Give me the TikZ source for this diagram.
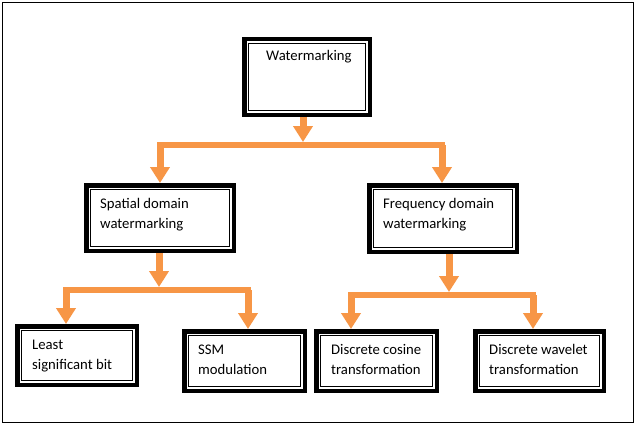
\documentclass[tikz,border=0pt]{standalone}
\usepackage{fontspec}
\setmainfont{Carlito}
\usetikzlibrary{arrows.meta}
\definecolor{arrorange}{RGB}{247,150,70}
\begin{document}
\begin{tikzpicture}[x=1pt,y=-1pt,
 box/.style={draw=black, line width=4.5pt, fill=white, inner sep=0pt, outer sep=2.25pt, anchor=north west},
 inbox/.style={draw=black, line width=1pt},
 lbl/.style={anchor=base west, inner sep=0pt, align=left, font=\fontsize{14.7}{20}\selectfont},
 shaft/.style={draw=arrorange, line width=7pt, -{Triangle[width=19pt,length=16pt]}},
 bar/.style={draw=arrorange, line width=6pt, line cap=rect},
]
\useasboundingbox (0,0) rectangle (636,425);
\draw[line width=1pt] (2.5,2.5) rectangle (633,422);

% boxes
\node[box, minimum width=125.5pt, minimum height=75.5pt] (w) at (242,37) {};
\node[box, minimum width=147.5pt, minimum height=65.5pt] (s) at (84,183) {};
\node[box, minimum width=147.5pt, minimum height=66.5pt] (f) at (367,183) {};
\node[box, minimum width=119.5pt, minimum height=58.5pt] (l) at (15,324) {};
\node[box, minimum width=120.5pt, minimum height=59.5pt] (m) at (182,329) {};
\node[box, minimum width=120.5pt, minimum height=59.5pt] (c) at (314,329) {};
\node[box, minimum width=128.5pt, minimum height=59.5pt] (d) at (473,329) {};
\foreach \n in {w,s,f,l,m,c,d}
  \draw[inbox] ([shift={(6.2,6.2)}]\n.north west) rectangle ([shift={(-6.2,-6.2)}]\n.south east);

% labels (base anchor = last line)
\node[lbl] (tw) at (266,61) {Watermarking};
\node[lbl] (ts) at (100,228) {Spatial domain\\watermarking};
\node[lbl] (tf) at (383,228) {Frequency domain\\watermarking};
\node[lbl] (tl) at (32,369) {Least\\significant bit};
\node[lbl] (tm) at (198,374) {SSM\\modulation};
\node[lbl] (tc) at (331,374) {Discrete cosine\\transformation};
\node[lbl] (td) at (489,374) {Discrete wavelet\\transformation};

% connectors level 1
\coordinate (b1j) at (303,142);
\coordinate (b1l) at (160,145);
\coordinate (b1r) at (442,145);
\draw[bar] (b1l) -- (b1r);
\draw[shaft] (w.south -| b1j) -- (b1j);
\draw[shaft] (b1l) -- (b1l |- s.north);
\draw[shaft] (b1r) -- (b1r |- f.north);

% connectors level 2 (spatial)
\coordinate (b2j) at (159,287);
\coordinate (b2l) at (66,290);
\coordinate (b2r) at (248,290);
\draw[bar] (b2l) -- (b2r);
\draw[shaft] (s.south -| b2j) -- (b2j);
\draw[shaft] (b2l) -- (b2l |- l.north);
\draw[shaft] (b2r) -- (b2r |- m.north);

% connectors level 2 (frequency)
\coordinate (b3j) at (449,292);
\coordinate (b3l) at (351,295);
\coordinate (b3r) at (533,295);
\draw[bar] (b3l) -- (b3r);
\draw[shaft] (f.south -| b3j) -- (b3j);
\draw[shaft] (b3l) -- (b3l |- c.north);
\draw[shaft] (b3r) -- (b3r |- d.north);
\end{tikzpicture}
\end{document}
